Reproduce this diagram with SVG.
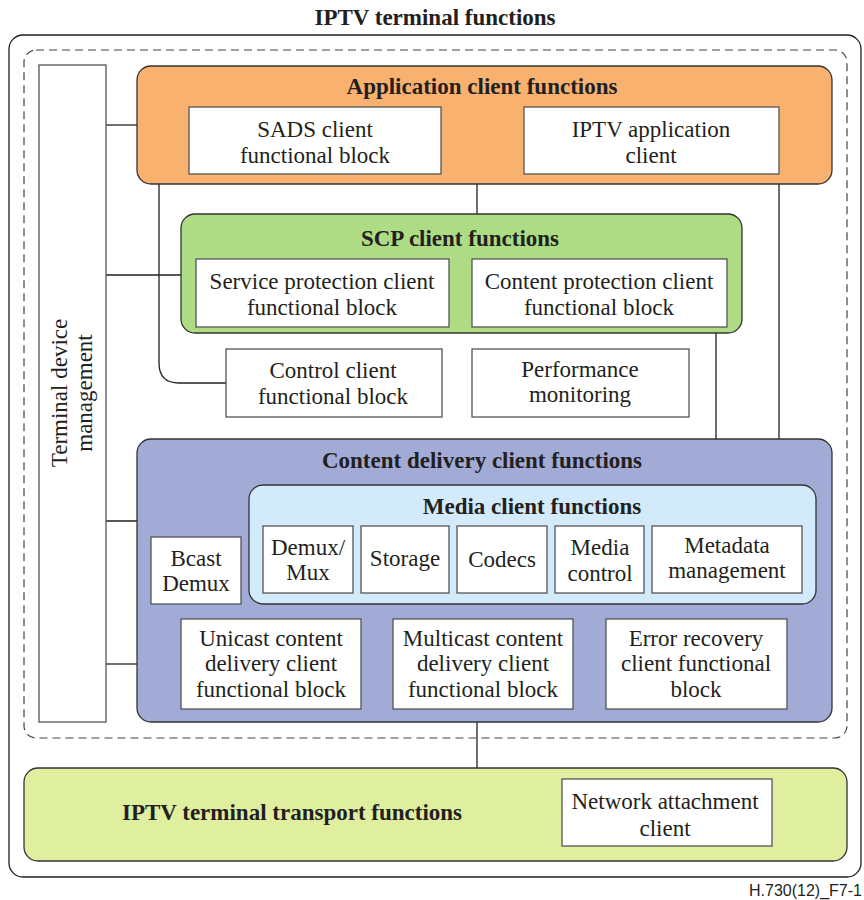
<svg xmlns="http://www.w3.org/2000/svg" width="864" height="900" viewBox="0 0 864 900">
<style>
text{font-family:"Liberation Serif","Times New Roman",serif;fill:#231f20;text-anchor:middle}
.t{font-size:23px}
.b{font-size:23px;font-weight:bold}
.box{fill:#fff;stroke:#555;stroke-width:1.3}
.ln{fill:none;stroke:#231f20;stroke-width:1.3}
.grp{stroke:#333;stroke-width:1.3}
</style>
<rect width="864" height="900" fill="#fff"/>
<text class="b" x="435" y="25">IPTV terminal functions</text>
<rect x="9" y="35" width="852" height="842" rx="14" fill="none" stroke="#231f20" stroke-width="1.3"/>
<rect x="24" y="50" width="823" height="688" rx="12" fill="none" stroke="#444" stroke-width="1.2" stroke-dasharray="8,5"/>

<g id="connectors">
<path class="ln" d="M106 125H137"/>
<path class="ln" d="M106 275H181"/>
<path class="ln" d="M106 521H249"/>
<path class="ln" d="M106 664H137"/>
<path class="ln" d="M477 184V214"/>
<path class="ln" d="M159 184V363Q159 383 179 383H226"/>
<path class="ln" d="M716 333V439"/>
<path class="ln" d="M779 184V485"/>
<path class="ln" d="M477 722V768"/>
</g>

<g id="tdm">
<rect class="box" x="39" y="65" width="67" height="657"/>
<text class="t" transform="translate(72 393) rotate(-90)"><tspan x="0" y="-5">Terminal device</tspan><tspan x="0" y="20">management</tspan></text>
</g>

<g id="app">
<rect class="grp" x="137" y="66" width="695" height="118" rx="14" fill="#f9b170"/>
<text class="b" x="482" y="94">Application client functions</text>
</g>
<g id="sads">
<rect class="box" x="189" y="107" width="252" height="67"/>
<text class="t" x="315" y="137">SADS client</text>
<text class="t" x="315" y="163">functional block</text>
</g>
<g id="iptvapp">
<rect class="box" x="524" y="107" width="255" height="67"/>
<text class="t" x="651" y="137">IPTV application</text>
<text class="t" x="651" y="163">client</text>
</g>

<g id="scp">
<rect class="grp" x="181" y="214" width="561" height="119" rx="14" fill="#aedc85"/>
<text class="b" x="460" y="246">SCP client functions</text>
</g>
<g id="spc">
<rect class="box" x="196" y="259" width="253" height="68"/>
<text class="t" x="322" y="289">Service protection client</text>
<text class="t" x="322" y="315">functional block</text>
</g>
<g id="cpc">
<rect class="box" x="472" y="259" width="255" height="68"/>
<text class="t" x="599" y="289">Content protection client</text>
<text class="t" x="599" y="315">functional block</text>
</g>

<g id="control">
<rect class="box" x="226" y="349" width="216" height="68"/>
<text class="t" x="333" y="378">Control client</text>
<text class="t" x="333" y="404">functional block</text>
</g>
<g id="perf">
<rect class="box" x="472" y="349" width="217" height="68"/>
<text class="t" x="580" y="377">Performance</text>
<text class="t" x="580" y="402">monitoring</text>
</g>

<g id="cdc">
<rect class="grp" x="137" y="439" width="695" height="283" rx="14" fill="#a2abd6"/>
<text class="b" x="482" y="468">Content delivery client functions</text>
</g>
<g id="media">
<rect class="grp" x="249" y="485" width="567" height="119" rx="14" fill="#d3eafb"/>
<text class="b" x="532" y="514">Media client functions</text>
</g>
<g id="demux">
<rect class="box" x="263" y="526" width="90" height="67"/>
<text class="t" x="308" y="555">Demux/</text>
<text class="t" x="308" y="580">Mux</text>
</g>
<g id="storage">
<rect class="box" x="361" y="526" width="88" height="67"/>
<text class="t" x="405" y="566">Storage</text>
</g>
<g id="codecs">
<rect class="box" x="457" y="526" width="90" height="67"/>
<text class="t" x="502" y="567">Codecs</text>
</g>
<g id="mctl">
<rect class="box" x="555" y="526" width="89" height="67"/>
<text class="t" x="600" y="555">Media</text>
<text class="t" x="600" y="581">control</text>
</g>
<g id="meta">
<rect class="box" x="652" y="526" width="150" height="67"/>
<text class="t" x="727" y="553">Metadata</text>
<text class="t" x="727" y="578">management</text>
</g>
<g id="bcast">
<rect class="box" x="151" y="537" width="90" height="67"/>
<text class="t" x="196" y="566">Bcast</text>
<text class="t" x="196" y="591">Demux</text>
</g>
<g id="unicast">
<rect class="box" x="181" y="619" width="180" height="90"/>
<text class="t" x="271" y="646">Unicast content</text>
<text class="t" x="271" y="671">delivery client</text>
<text class="t" x="271" y="697">functional block</text>
</g>
<g id="multicast">
<rect class="box" x="393" y="619" width="180" height="90"/>
<text class="t" x="483" y="646">Multicast content</text>
<text class="t" x="483" y="671">delivery client</text>
<text class="t" x="483" y="697">functional block</text>
</g>
<g id="errrec">
<rect class="box" x="606" y="619" width="181" height="90"/>
<text class="t" x="696" y="646">Error recovery</text>
<text class="t" x="696" y="671">client functional</text>
<text class="t" x="696" y="697">block</text>
</g>

<g id="transport">
<rect class="grp" x="24" y="768" width="823" height="93" rx="14" fill="#dfef9f"/>
<text class="b" x="292" y="820">IPTV terminal transport functions</text>
</g>
<g id="nac">
<rect class="box" x="562" y="779" width="210" height="67"/>
<text class="t" x="665" y="809">Network attachment</text>
<text class="t" x="665" y="836">client</text>
</g>

<text x="862" y="896" style="font-family:'Liberation Sans',Arial,sans-serif;font-size:16px;text-anchor:end">H.730(12)_F7-1</text>
</svg>
